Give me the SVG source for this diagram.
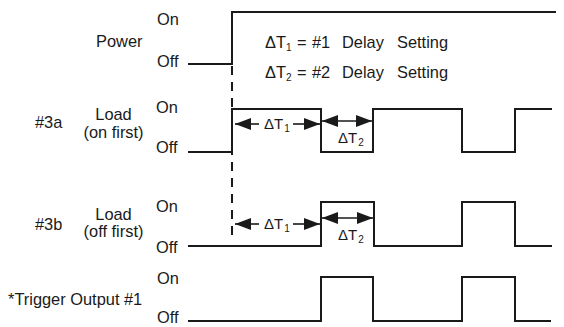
<svg xmlns="http://www.w3.org/2000/svg" width="564" height="327" viewBox="0 0 564 327">
<style>
.lbl{font-family:"Liberation Sans",Arial,sans-serif;font-size:16.4px;fill:#1a1a1a}
.dt{font-family:"Liberation Sans",Arial,sans-serif;font-size:15px;fill:#1a1a1a}
.sub{font-size:10px}
.wave{fill:none;stroke:#1a1a1a;stroke-width:2;stroke-linejoin:miter}
.dash{fill:none;stroke:#1a1a1a;stroke-width:2;stroke-dasharray:9 7}
.arr{fill:none;stroke:#1a1a1a;stroke-width:1.6}
</style>
<defs>
<marker id="ah" viewBox="0 0 16 12" refX="16" refY="6" markerWidth="16" markerHeight="12" markerUnits="userSpaceOnUse" orient="auto-start-reverse">
<path d="M0,0 L16,6 L0,12 z" fill="#1a1a1a"/>
</marker>
</defs>
<rect width="564" height="327" fill="#fff"/>

<g id="power">
<text class="lbl" x="157" y="25">On</text>
<text class="lbl" x="96" y="47">Power</text>
<text class="lbl" x="157" y="67">Off</text>
<path class="wave" d="M188,64 H232 V12 H556"/>
</g>

<g id="legend">
<text class="lbl" x="265" y="48">ΔT<tspan class="sub" dx="0" dy="3">1</tspan><tspan x="297" dy="-3">=</tspan><tspan x="312">#1</tspan><tspan x="342">Delay</tspan><tspan x="397">Setting</tspan></text>
<text class="lbl" x="265" y="78">ΔT<tspan class="sub" dx="0" dy="3">2</tspan><tspan x="297" dy="-3">=</tspan><tspan x="312">#2</tspan><tspan x="342">Delay</tspan><tspan x="397">Setting</tspan></text>
</g>

<g id="load-3a">
<text class="lbl" x="35" y="128">#3a</text>
<text class="lbl" x="113.5" y="120" text-anchor="middle">Load</text>
<text class="lbl" x="113.5" y="138" text-anchor="middle">(on first)</text>
<text class="lbl" x="156" y="113">On</text>
<text class="lbl" x="156" y="153">Off</text>
<path class="wave" d="M188,152 H232 V109 H321 V152 H373 V109 H462 V152 H515 V109 H552"/>
<text class="dt" x="264" y="129">ΔT<tspan class="sub" dx="1" dy="3">1</tspan></text>
<text class="dt" x="338" y="143">ΔT<tspan class="sub" dx="1" dy="3">2</tspan></text>
</g>

<g id="load-3b">
<text class="lbl" x="35" y="230">#3b</text>
<text class="lbl" x="113.5" y="220" text-anchor="middle">Load</text>
<text class="lbl" x="113.5" y="237" text-anchor="middle">(off first)</text>
<text class="lbl" x="156" y="212">On</text>
<text class="lbl" x="156" y="253">Off</text>
<path class="wave" d="M188,246 H321 V202 H374 V246 H462 V202 H515 V246 H552"/>
<text class="dt" x="264" y="229">ΔT<tspan class="sub" dx="1" dy="3">1</tspan></text>
<text class="dt" x="338" y="240">ΔT<tspan class="sub" dx="1" dy="3">2</tspan></text>
</g>

<g id="trigger">
<text class="lbl" x="8" y="305">*Trigger Output #1</text>
<text class="lbl" x="157" y="284">On</text>
<text class="lbl" x="157" y="323">Off</text>
<path class="wave" d="M188,321 H321 V277 H373 V321 H462 V277 H515 V321 H551"/>
</g>

<g id="connectors">
<line class="dash" x1="232" y1="66" x2="232" y2="237"/>
<line class="arr" x1="259" y1="124" x2="235" y2="124" marker-end="url(#ah)"/>
<line class="arr" x1="293" y1="124" x2="320" y2="124" marker-end="url(#ah)"/>
<line class="arr" x1="322" y1="121" x2="372" y2="121" marker-start="url(#ah)" marker-end="url(#ah)"/>
<line class="arr" x1="259" y1="224" x2="235" y2="224" marker-end="url(#ah)"/>
<line class="arr" x1="293" y1="224" x2="320" y2="224" marker-end="url(#ah)"/>
<line class="arr" x1="322" y1="218" x2="373" y2="218" marker-start="url(#ah)" marker-end="url(#ah)"/>
</g>
</svg>
